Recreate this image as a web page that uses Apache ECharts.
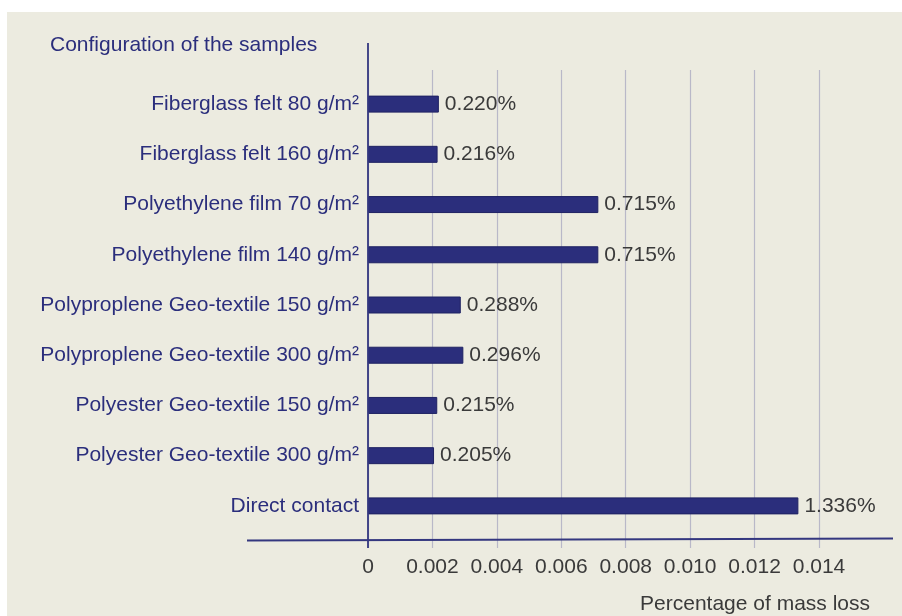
<!DOCTYPE html>
<html>
<head>
<meta charset="utf-8">
<script src="https://cdn.jsdelivr.net/npm/echarts@6/dist/echarts.min.js"></script>
<style>
  html, body { margin: 0; padding: 0; background: #ffffff; }
  #panel { position: absolute; left: 7px; top: 12px; right: 0; bottom: 0; background: #ecebe0; }
  #chart { position: absolute; left: 0; top: 0; width: 902px; height: 616px; }
</style>
</head>
<body>
<div id="panel"></div>
<div id="chart"></div>
<script>
// Data
const categories = [
  'Fiberglass felt 80 g/m\u00b2',
  'Fiberglass felt 160 g/m\u00b2',
  'Polyethylene film 70 g/m\u00b2',
  'Polyethylene film 140 g/m\u00b2',
  'Polyproplene Geo-textile 150 g/m\u00b2',
  'Polyproplene Geo-textile 300 g/m\u00b2',
  'Polyester Geo-textile 150 g/m\u00b2',
  'Polyester Geo-textile 300 g/m\u00b2',
  'Direct contact'
];
// percentage of mass loss (in %)
const massLossPct = [0.220, 0.216, 0.715, 0.715, 0.288, 0.296, 0.215, 0.205, 1.336];
const xTickLabels = ['0', '0.002', '0.004', '0.006', '0.008', '0.010', '0.012', '0.014'];
const yAxisTitle = 'Configuration of the samples';
const xAxisTitle = 'Percentage of mass loss';

const navy = '#2b2e7c';
const grey = '#3a3a3a';
const font = 'Liberation Sans, Arial, Helvetica, sans-serif';
const fs = 21;

const barValues = massLossPct.map(p => p / 100);

const chart = echarts.init(document.getElementById('chart'), null, { renderer: 'canvas' });
chart.setOption({
  backgroundColor: 'transparent',
  animation: false,
  textStyle: { fontFamily: font },
  title: [
    { text: yAxisTitle, left: 50, top: 35, padding: 0,
      textStyle: { color: navy, fontSize: fs, fontWeight: 'normal', fontFamily: font } },
    { text: xAxisTitle, right: 32, top: 594, padding: 0,
      textStyle: { color: grey, fontSize: fs, fontWeight: 'normal', fontFamily: font } }
  ],
  grid: [
    { left: 368, right: 83, top: 79, height: 452, containLabel: false },
    { left: 368, right: 83, top: 70, height: 478, containLabel: false }
  ],
  xAxis: [
    {
      gridIndex: 0, type: 'value', min: 0, max: 0.014, interval: 0.002,
      axisLine: { show: false }, axisTick: { show: false }, splitLine: { show: false },
      axisLabel: {
        color: grey, fontSize: fs, margin: 26, fontFamily: font,
        formatter: (v) => xTickLabels[Math.round(v / 0.002)]
      }
    },
    {
      gridIndex: 1, type: 'value', min: 0, max: 0.014, interval: 0.002,
      axisLine: { show: false }, axisTick: { show: false }, axisLabel: { show: false },
      splitLine: { show: true, lineStyle: { color: '#b9b8c8', width: 1.2 } }
    }
  ],
  yAxis: [
    {
      gridIndex: 0, type: 'category', data: categories, inverse: true,
      axisLine: { show: false }, axisTick: { show: false }, splitLine: { show: false },
      axisLabel: { color: navy, fontSize: fs, margin: 9, fontFamily: font }
    },
    {
      gridIndex: 1, type: 'value', show: false, splitLine: { show: false }
    }
  ],
  graphic: [
    { type: 'line', z: 100, shape: { x1: 368, y1: 43, x2: 368, y2: 548 },
      style: { stroke: '#34377f', lineWidth: 1.8 } },
    { type: 'line', z: 100, shape: { x1: 247, y1: 540.5, x2: 893, y2: 538.5 },
      style: { stroke: '#34377f', lineWidth: 2 } }
  ],
  series: [
    {
      type: 'bar', xAxisIndex: 0, yAxisIndex: 0,
      data: barValues,
      barWidth: 17,
      itemStyle: { color: navy, borderColor: '#1f2262', borderWidth: 1 },
      label: {
        show: true, position: 'right', distance: 6,
        color: grey, fontSize: fs, fontFamily: font,
        formatter: (p) => massLossPct[p.dataIndex].toFixed(3) + '%'
      }
    }
  ]
});
</script>
</body>
</html>
